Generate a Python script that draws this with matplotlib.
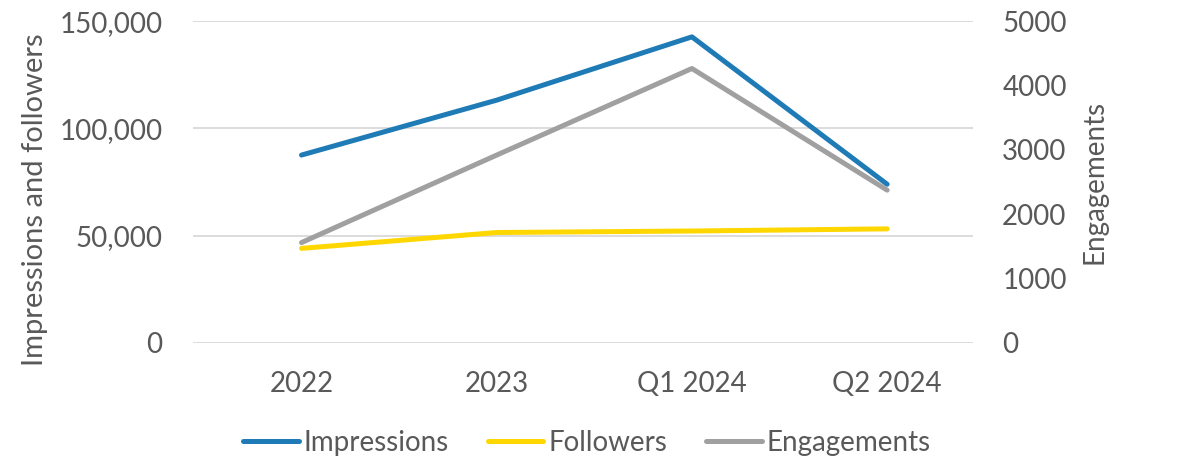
import matplotlib.pyplot as plt
from matplotlib.ticker import FuncFormatter

# data
periods = ['2022', '2023', 'Q1 2024', 'Q2 2024']
impressions = [87600, 113200, 142700, 74000]
followers = [44100, 51500, 52200, 53200]
engagements = [1560, 2920, 4265, 2375]

plt.rcParams['font.family'] = ['Lato', 'DejaVu Sans']
txt = '#595959'
fs = 20

fig = plt.figure(figsize=(11.81, 4.61), dpi=100)
ax = fig.add_axes([0.1634, 0.256, 0.6605, 0.698])
ax2 = ax.twinx()

x = range(len(periods))
l1, = ax.plot(x, impressions, color='#1F7BB6', lw=3.6, solid_capstyle='round', label='Impressions')
l2, = ax.plot(x, followers, color='#FFD700', lw=3.6, solid_capstyle='round', label='Followers')
l3, = ax2.plot(x, engagements, color='#A0A0A0', lw=3.6, solid_capstyle='round', label='Engagements')

ax.set_xlim(-0.556, 3.44)
ax.set_ylim(0, 150000)
ax.set_yticks([0, 50000, 100000, 150000])
ax.yaxis.set_major_formatter(FuncFormatter(lambda v, p: f'{int(v):,}'))
ax2.set_ylim(0, 5000)
ax2.set_yticks(range(0, 5001, 1000))

ax.set_xticks(list(x))
ax.set_xticklabels(periods)
ax.grid(axis='y', color='#D9D9D9', lw=1.3)
ax.set_axisbelow(True)

for a in (ax, ax2):
    for s in a.spines.values():
        s.set_visible(False)
    a.tick_params(length=0, labelsize=fs, colors=txt)
ax.tick_params(axis='y', pad=22)
ax.tick_params(axis='x', pad=20)
ax2.tick_params(axis='y', pad=21)

ax.set_ylabel('Impressions and followers', fontsize=21, color=txt, labelpad=8)
ax.yaxis.label.set_y(0.445)
ax2.set_ylabel('Engagements', fontsize=fs, color=txt, labelpad=11)

fig.legend(handles=[l1, l2, l3], loc='center', bbox_to_anchor=(0.497, 0.04), ncol=3,
           frameon=False, fontsize=fs, handlelength=2.0, handletextpad=0.18,
           columnspacing=1.4, labelcolor=txt)

fig.savefig('out.png', dpi=100)
